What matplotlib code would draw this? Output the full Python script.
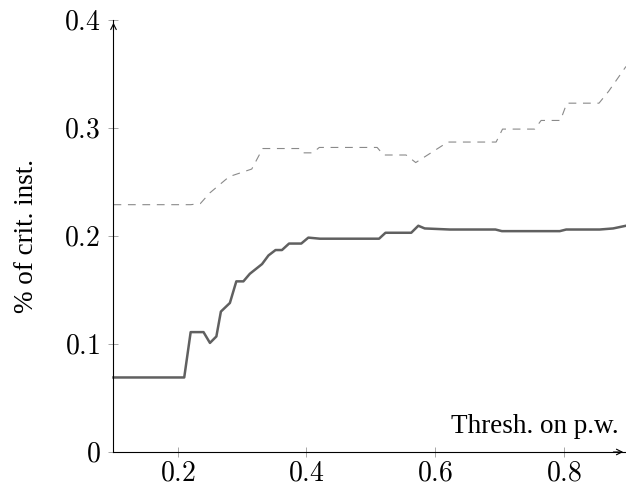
import matplotlib
matplotlib.use("Agg")
import matplotlib.pyplot as plt

# threshold on p.w. vs. share of critical instances
solid_x = [0.10, 0.21, 0.22, 0.24, 0.25, 0.26, 0.267, 0.281, 0.291, 0.302, 0.312,
           0.331, 0.341, 0.352, 0.362, 0.373, 0.392, 0.403, 0.421, 0.513, 0.523,
           0.563, 0.574, 0.584, 0.623, 0.694, 0.704, 0.794, 0.804, 0.856, 0.877, 0.897]
solid_y = [0.069, 0.069, 0.111, 0.111, 0.101, 0.107, 0.130, 0.138, 0.158, 0.158, 0.165,
           0.174, 0.182, 0.187, 0.187, 0.193, 0.193, 0.1985, 0.1975, 0.1975, 0.203,
           0.203, 0.2095, 0.207, 0.206, 0.206, 0.2045, 0.2045, 0.206, 0.206, 0.207, 0.2095]

dashed_x = [0.10, 0.22, 0.235, 0.25, 0.28, 0.30, 0.315, 0.332, 0.39, 0.395, 0.41, 0.42,
            0.51, 0.52, 0.555, 0.57, 0.62, 0.695, 0.705, 0.755, 0.765, 0.795, 0.805,
            0.855, 0.87, 0.897]
dashed_y = [0.229, 0.229, 0.230, 0.240, 0.255, 0.259, 0.262, 0.281, 0.281, 0.277, 0.277, 0.282,
            0.282, 0.275, 0.275, 0.268, 0.287, 0.287, 0.299, 0.299, 0.307, 0.307, 0.323,
            0.323, 0.334, 0.357]

x_ticks = [0.2, 0.4, 0.6, 0.8]
y_ticks = [0, 0.1, 0.2, 0.3, 0.4]
x_ticklabels = ["0.2", "0.4", "0.6", "0.8"]
y_ticklabels = ["0", "0.1", "0.2", "0.3", "0.4"]

matplotlib.rcParams["font.family"] = "Liberation Serif"
matplotlib.rcParams["mathtext.fontset"] = "cm"

fig = plt.figure(figsize=(6.26, 4.87), dpi=100)
ax = fig.add_axes([0.1813, 0.0719, 0.8187, 0.887])

ax.plot(dashed_x, dashed_y, color="#8a8a8a", linewidth=0.8, dashes=(7, 6), clip_on=False)
ax.plot(solid_x, solid_y, color="#606060", linewidth=1.8, clip_on=False)

ax.set_xlim(0.1, 0.897)
ax.set_ylim(0, 0.4)
ax.set_xticks(x_ticks)
ax.set_xticklabels(["$" + t + "$" for t in x_ticklabels])
ax.set_yticks(y_ticks)
ax.set_yticklabels(["$" + t + "$" for t in y_ticklabels])
ax.tick_params(direction="inout", length=7, width=0.6, color="#999999", labelsize=20)
ax.tick_params(axis="x", pad=3)
ax.tick_params(axis="y", pad=6)

# Despine top and right
ax.spines["top"].set_visible(False)
ax.spines["right"].set_visible(False)
ax.spines["left"].set_linewidth(0.8)
ax.spines["bottom"].set_linewidth(0.8)

# Axis arrows
ax.annotate("", xy=(0, 1.0), xytext=(0, 0.97), xycoords="axes fraction",
            arrowprops=dict(arrowstyle="->", lw=0.8, color="black"))
ax.annotate("", xy=(1.0, 0), xytext=(0.97, 0), xycoords="axes fraction",
            arrowprops=dict(arrowstyle="->", lw=0.8, color="black"))

ax.text(0.985, 0.03, "Thresh. on p.w.", transform=ax.transAxes, ha="right", va="bottom", fontsize=19.5)
ax.set_ylabel("% of crit. inst.", fontsize=19.5, labelpad=18)

plt.savefig("out.png", dpi=100)
